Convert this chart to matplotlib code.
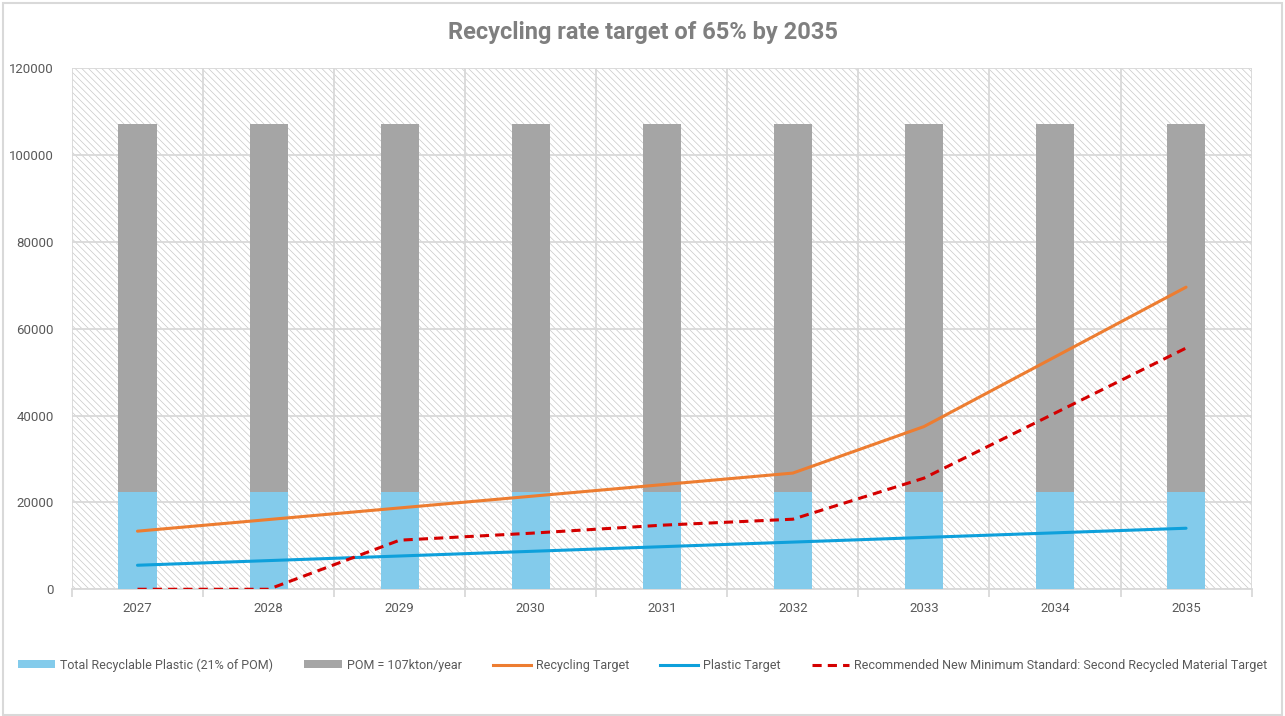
import numpy as np
import matplotlib
matplotlib.use("Agg")
import matplotlib.pyplot as plt
from matplotlib.patches import Rectangle, Patch
from matplotlib.lines import Line2D

plt.rcParams['font.family'] = ['Roboto', 'DejaVu Sans']
plt.rcParams['hatch.linewidth'] = 0.5
plt.rcParams['hatch.color'] = '#c8c8c8'

years = ['2027', '2028', '2029', '2030', '2031', '2032', '2033', '2034', '2035']
pom = [107000] * 9
recyclable = [22470] * 9
recycling_target = [13375, 16050, 18725, 21400, 24075, 26750, 37450, 53500, 69550]
plastic_target = [5530, 6600, 7660, 8730, 9800, 10860, 11930, 12990, 14050]
second_recycled = [0, 0, 11300, 12900, 14750, 16130, 25580, 40550, 55530]

x = np.arange(len(years))
grey_txt = '#595959'

fig = plt.figure(figsize=(12.85, 7.16), dpi=100)
ax = fig.add_axes([0.056, 0.177, 0.918, 0.728])

# hatched plot area
ax.add_patch(Rectangle((0, 0), 1, 1, transform=ax.transAxes, facecolor='white',
                       edgecolor='#c8c8c8', hatch='\\\\\\\\\\', linewidth=0, zorder=0))

ax.bar(x, pom, width=0.29, color='#a5a5a5', zorder=2)
ax.bar(x, recyclable, width=0.29, color='#83cbeb', zorder=3)

ax.plot(x, recycling_target, color='#ed7d31', lw=2.2, zorder=4, solid_capstyle='round')
ax.plot(x, plastic_target, color='#0ea0db', lw=2.2, zorder=4, solid_capstyle='round')
ax.plot(x, second_recycled, color='#d40000', lw=2.2, dashes=(3, 2), zorder=5)

ax.set_xlim(-0.5, 8.5)
ax.set_ylim(0, 120000)
ax.set_yticks(np.arange(0, 120001, 20000))
ax.set_xticks(x)
ax.set_xticklabels(years)
ax.set_xticks(np.arange(-0.5, 9, 1), minor=True)

ax.grid(axis='y', which='major', color='#d9d9d9', lw=1.3, zorder=1)
ax.grid(axis='x', which='minor', color='#d9d9d9', lw=1.3, zorder=1)
ax.set_axisbelow(True)
ax.tick_params(axis='x', which='major', length=0, labelsize=9.5, colors=grey_txt, pad=9)
ax.tick_params(axis='x', which='minor', length=6, color='#d9d9d9', width=1.3)
ax.tick_params(axis='y', length=0, labelsize=9.5, colors=grey_txt, pad=13)
for s in ['top', 'right', 'left']:
    ax.spines[s].set_visible(False)
ax.spines['bottom'].set_color('#d9d9d9')
ax.spines['bottom'].set_linewidth(1.3)

fig.text(0.5, 0.955, 'Recycling rate target of 65% by 2035', ha='center', va='center',
         fontsize=17, fontweight='bold', color='#7f7f7f')

handles = [
    Patch(facecolor='#83cbeb', label='Total Recyclable Plastic (21% of POM)'),
    Patch(facecolor='#a5a5a5', label='POM = 107kton/year'),
    Line2D([], [], color='#ed7d31', lw=2.2, label='Recycling Target'),
    Line2D([], [], color='#0ea0db', lw=2.2, label='Plastic Target'),
    Line2D([], [], color='#d40000', lw=2.2, dashes=(3, 2),
           label='Recommended New Minimum Standard: Second Recycled Material Target'),
]
leg = fig.legend(handles=handles, loc='center', bbox_to_anchor=(0.5, 0.071), ncol=5,
                 frameon=False, fontsize=9, handlelength=3.0, handleheight=0.6,
                 columnspacing=2.5, handletextpad=0.4)
for t in leg.get_texts():
    t.set_color(grey_txt)

# chart border
fig.add_artist(Rectangle((0.002, 0.002), 0.996, 0.994, transform=fig.transFigure,
                         fill=False, edgecolor='#d9d9d9', lw=1.5))

fig.savefig('out.png', dpi=100)
